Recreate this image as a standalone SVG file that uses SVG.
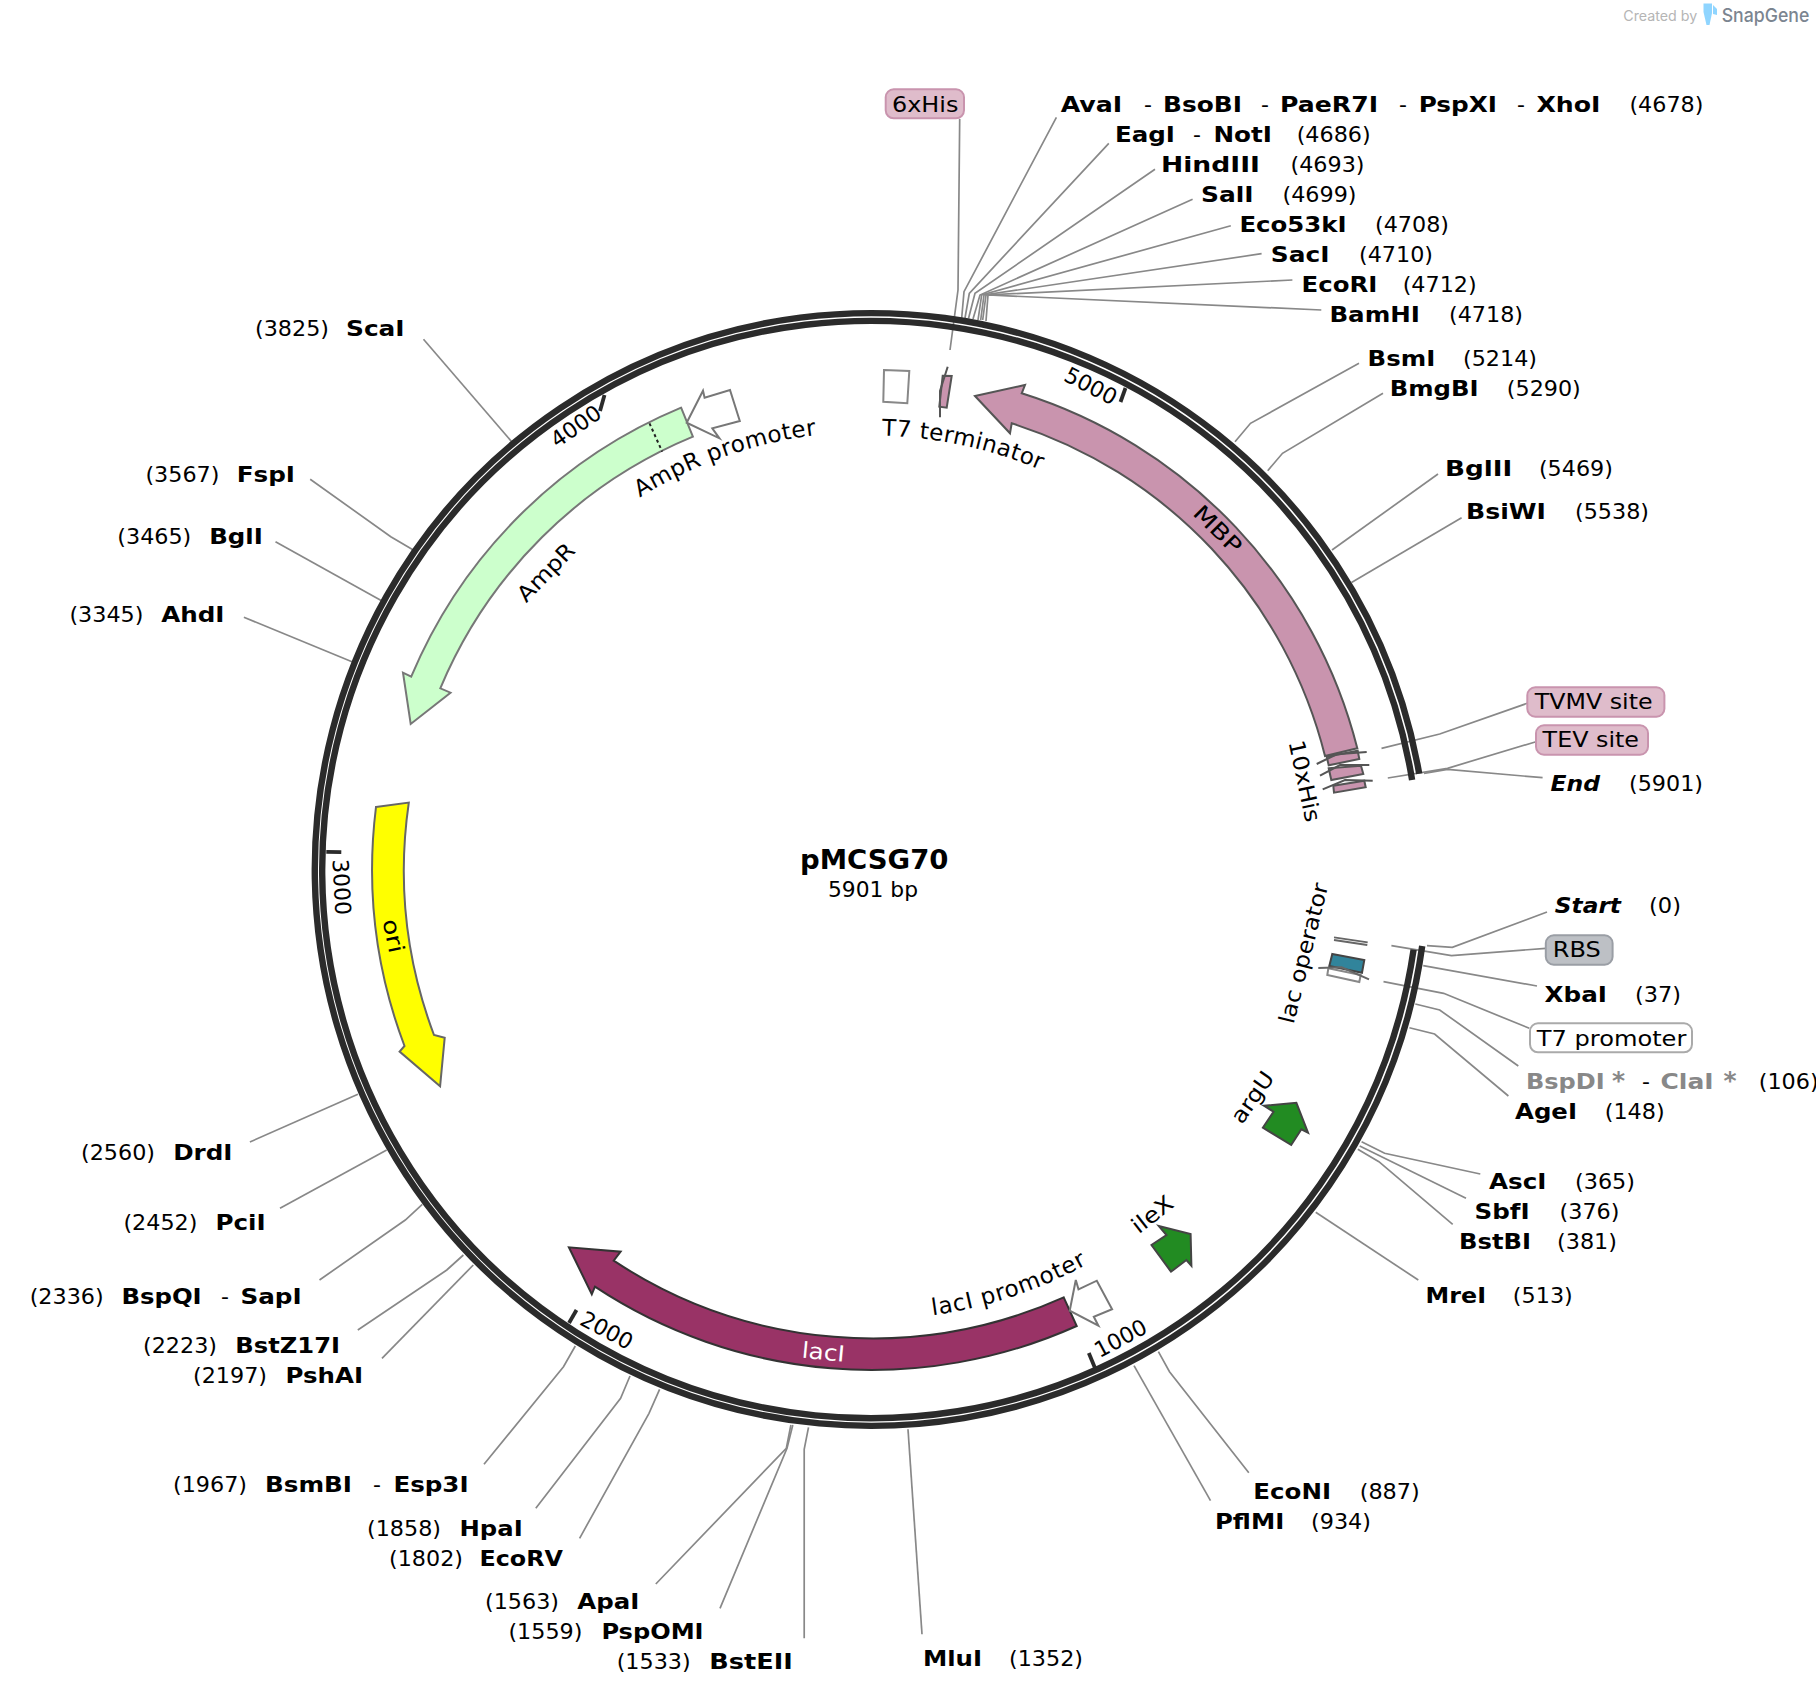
<svg xmlns="http://www.w3.org/2000/svg" width="1816" height="1698" viewBox="0 0 1816 1698">
<style>
text{font-family:"DejaVu Sans","Liberation Sans",sans-serif;font-size:22px;fill:#000}
.b{font-weight:bold}
.bi{font-weight:bold;font-style:italic}
.g{font-weight:bold;fill:#888}
.m{text-anchor:middle}
.a{font-size:23px}
.c polyline{fill:none;stroke:#888;stroke-width:1.7}
.ring{fill:none;stroke:#2b2b2b;stroke-width:6.4}
.tick{stroke:#2b2b2b;stroke-width:3.8}
.mark{fill:none;stroke:#555;stroke-width:2}
.pink{fill:#c994ae;stroke:#555;stroke-width:2}
.prom{fill:#fff;stroke:#777;stroke-width:2}
.green{fill:#228b22;stroke:#444;stroke-width:2}
.pb{fill:#dfbccb;stroke:#c994ae;stroke-width:2}
</style>
<defs>
<path id="cw" d="M871 431.5A438 438 0 1 1 870.9 431.5"/>
<path id="ccw" d="M871 1319.5A450 450 0 1 0 870.9 1319.5"/>
</defs>
<g id="connectors" class="c">
<polyline points="959.7,119 958,290 950,350"/>
<polyline points="961.7,318 964,291.7 1056.4,117.3"/>
<polyline points="965,318 969.3,293.3 1108.8,143.3"/>
<polyline points="968.5,318.5 975,293.3 1155,169.3"/>
<polyline points="973,319 980,295 1192.6,199.3"/>
<polyline points="978,320 981.7,295 1230.8,225.7"/>
<polyline points="980.7,320 984,295 1261.6,253.7"/>
<polyline points="982.7,320 986,295 1292.4,280"/>
<polyline points="986,321 988,295 1321.3,310"/>
<polyline points="1235,441.7 1250.5,423.3 1359,363.3"/>
<polyline points="1267.7,470.7 1282.5,453.3 1383,393.3"/>
<polyline points="1332,550 1438,474"/>
<polyline points="1351.5,582.5 1461.6,517.7"/>
<polyline points="1381.5,748.3 1439.7,734 1527.3,703.3"/>
<polyline points="1387.8,778 1447.5,768.3 1536,741.7"/>
<polyline points="1424,773.3 1447.5,769.3 1542.6,777.7"/>
<polyline points="1427,945.7 1452.3,947.3 1547,912"/>
<polyline points="1391.4,945.7 1451.5,955.7 1545.8,948.3"/>
<polyline points="1423.2,965.7 1537,986"/>
<polyline points="1383.5,981.7 1443.6,993.3 1529.3,1028.3"/>
<polyline points="1415.3,1004 1439.7,1010 1518.3,1066"/>
<polyline points="1409.4,1027.7 1434.6,1034 1508.4,1096"/>
<polyline points="1361.6,1141.7 1384.6,1153.3 1480.3,1174"/>
<polyline points="1359.7,1146 1466,1198.3"/>
<polyline points="1357.8,1149.3 1378.9,1161.7 1452.7,1224.3"/>
<polyline points="1315.7,1212.3 1418.3,1280"/>
<polyline points="1158.4,1351.7 1169.5,1371.7 1248.8,1472.7"/>
<polyline points="1134,1365.7 1210.5,1500.7"/>
<polyline points="908,1429.3 922,1634.3"/>
<polyline points="808.5,1427.3 804.2,1449.3 804.2,1638.3"/>
<polyline points="792.8,1425 787,1448.3 720,1608.3"/>
<polyline points="790.9,1425 786.3,1448.3 655.8,1584"/>
<polyline points="659.6,1389.3 649,1413.3 579.6,1538.3"/>
<polyline points="630,1376 620.6,1398.3 535.8,1508.3"/>
<polyline points="575.3,1346 563.5,1366.7 484,1464.3"/>
<polyline points="473.3,1265 382,1358.3"/>
<polyline points="463.4,1255 446.8,1270 357.8,1330"/>
<polyline points="422.3,1204.3 405.3,1220 319.5,1280"/>
<polyline points="386.7,1150 280,1208.3"/>
<polyline points="357.9,1094.3 249.9,1142"/>
<polyline points="352,661.7 243.9,617.3"/>
<polyline points="381.6,600.7 275.5,541.7"/>
<polyline points="413.3,550 390.8,536.7 310.2,479.3"/>
<polyline points="511.7,441.7 423.5,339.3"/>
</g>
<g id="backbone">
<path class="ring" d="M1422.2 946A556.35 556.35 0 1 1 1419.2 773.8"/>
<path class="ring" d="M1413.6 949.6A548.65 548.65 0 1 1 1412.1 779.9"/>
<line class="tick" x1="1095" y1="1368" x2="1088.8" y2="1353"/>
<line class="tick" x1="569" y1="1323" x2="576.5" y2="1310"/>
<line class="tick" x1="326.3" y1="851.9" x2="341.3" y2="852.2"/>
<line class="tick" x1="604.5" y1="395" x2="600" y2="411"/>
<line class="tick" x1="1125.5" y1="388" x2="1120.5" y2="402"/>
<text class="m" transform="translate(1120.5,1338) rotate(-28)" y="8">1000</text>
<text class="m" transform="translate(607,1330) rotate(28)" y="8">2000</text>
<text class="m" transform="translate(342,887) rotate(87)" y="8">3000</text>
<text class="m" transform="translate(575.6,426) rotate(-35)" y="8">4000</text>
<text class="m" transform="translate(1091,385.7) rotate(27)" y="8">5000</text>
</g>
<g id="center">
<text class="b" x="800" y="869" style="font-size:26px" textLength="148.5" lengthAdjust="spacingAndGlyphs">pMCSG70</text>
<text x="828" y="897" style="font-size:21px" textLength="90" lengthAdjust="spacingAndGlyphs">5901 bp</text>
</g>
<g id="MBP">
<path class="pink" d="M975 396L1025 385L1021.7 393.3A501 501 0 0 1 1357.3 748.3L1325 756A468 468 0 0 0 1011.7 423.3L1010 433.3Z"/>
<text class="m" transform="translate(1218,529) rotate(45)" y="8" textLength="58" lengthAdjust="spacingAndGlyphs">MBP</text>
</g>
<g id="his10">
<polygon class="pink" points="1326.7,756.7 1357.7,750.7 1359.3,759 1328.7,765.3"/>
<polygon class="pink" points="1328.7,768.3 1361,765.7 1363.3,774 1331.3,780"/>
<polygon class="pink" points="1333.3,785.7 1364.3,780.7 1365.7,787.3 1334,792.7"/>
<path class="mark" d="M1316.7 764L1336.7 754.3L1366.7 752M1320 775.7L1340 765L1369.3 765M1322.7 789.3L1345 780L1372.7 780.7"/>
<text class="m" transform="translate(1305,781) rotate(78)" y="8" textLength="83" lengthAdjust="spacingAndGlyphs">10xHis</text>
</g>
<g id="T7-terminator">
<polygon points="884,370 909.3,371 907.3,403.3 883.3,401.7" fill="#fff" stroke="#888" stroke-width="2"/>
<text class="a" letter-spacing="0.5" dy="4"><textPath href="#cw" startOffset="11">T7 terminator</textPath></text>
</g>
<g id="his6-mark">
<polygon class="pink" points="942.7,375.7 951.7,376 946.7,407.7 939.3,406.7"/>
<path class="mark" d="M947.7 366.7L940 391L940 417.3"/>
</g>
<g id="AmpR">
<path d="M681.1 407.7L692.9 436.7A468 468 0 0 0 440.3 688.3L450.5 692.7L410.7 724L403 672.7L411.2 676.7A501 501 0 0 1 681.1 407.7Z" fill="#ccffcc" stroke="#777" stroke-width="2"/>
<line x1="649.5" y1="423.3" x2="662.2" y2="451.7" stroke="#222" stroke-width="2" stroke-dasharray="3 3"/>
<text class="m" transform="translate(545.5,572) rotate(-46)" y="8" textLength="72" lengthAdjust="spacingAndGlyphs">AmpR</text>
</g>
<g id="AmpR-promoter">
<polygon class="prom" points="686.7,422.7 703,390.7 704.6,397.7 730,390 739.8,421 712.3,428.3 719.4,438.3"/>
<text class="a" letter-spacing="0.5"><textPath href="#cw" startOffset="2508">AmpR promoter</textPath></text>
</g>
<g id="ori">
<path d="M376 807L408.8 802.6A468 468 0 0 0 434 1035L444.7 1037.7L440.1 1086.3L399.6 1051.6L404.5 1046A501 501 0 0 1 376 807Z" fill="#ff0" stroke="#666" stroke-width="2"/>
<text class="m" transform="translate(393.8,935.7) rotate(78)" y="8" textLength="34" lengthAdjust="spacingAndGlyphs">ori</text>
</g>
<g id="lacI">
<path d="M1063.7 1297.3L1076.7 1326A501 501 0 0 1 594.9 1286.7L591.8 1294.3L568.9 1247.3L620.6 1251.7L613.7 1260.7A468 468 0 0 0 1063.7 1297.3Z" fill="#993366" stroke="#333" stroke-width="2"/>
<text class="m" transform="translate(823.4,1351.7) rotate(5.5)" y="8" style="fill:#fff" textLength="43" lengthAdjust="spacingAndGlyphs">lacI</text>
</g>
<g id="lacI-promoter">
<polygon class="prom" points="1069.7,1310.7 1075.8,1280 1078.5,1289.3 1096.8,1280.7 1112.1,1309.3 1093.8,1316.7 1098.4,1325.7"/>
<text class="a" letter-spacing="0.8"><textPath href="#ccw" startOffset="61.7">lacI promoter</textPath></text>
</g>
<g id="ileX">
<polygon class="green" points="1190.6,1234 1191.4,1265.7 1186.4,1260 1171,1271.7 1151.5,1245 1166.5,1235 1158.8,1226"/>
<text class="m" transform="translate(1152,1214) rotate(-38)" y="8" textLength="46" lengthAdjust="spacingAndGlyphs">ileX</text>
</g>
<g id="argU">
<polygon class="green" points="1296.3,1102.7 1308,1132.7 1301.4,1129.3 1291.2,1145 1262.9,1127.7 1273.5,1111.7 1264,1105.7"/>
<text class="m" transform="translate(1252,1097) rotate(-55)" y="8" textLength="58" lengthAdjust="spacingAndGlyphs">argU</text>
</g>
<g id="lac-operator">
<polygon points="1332.3,954 1364.3,960 1362,972.7 1329.3,966" fill="#31849b" stroke="#444" stroke-width="2"/>
<text class="m" transform="translate(1311,955) rotate(-76)" textLength="144" lengthAdjust="spacingAndGlyphs">lac operator</text>
</g>
<g id="RBS-mark">
<path d="M1334 937.3L1367.7 942.3M1334 940L1367.3 945" fill="none" stroke="#666" stroke-width="1.8"/>
</g>
<g id="T7-promoter-mark">
<polygon points="1328.3,968.3 1327.3,975 1359.3,982 1360.7,975" fill="#fff" stroke="#888" stroke-width="2"/>
<path d="M1318.3 968L1341.7 967.3L1369 979.3" fill="none" stroke="#666" stroke-width="2"/>
</g>
<g id="box-6xHis"><rect class="pb" x="885.7" y="89.3" width="78.3" height="29" rx="8"/><text x="892" y="111.7" textLength="66.4" lengthAdjust="spacingAndGlyphs">6xHis</text></g>
<g id="box-TVMV"><rect class="pb" x="1527.3" y="687.3" width="137.1" height="29.4" rx="8"/><text x="1534.8" y="709.3" textLength="117.8" lengthAdjust="spacingAndGlyphs">TVMV site</text></g>
<g id="box-TEV"><rect class="pb" x="1536" y="725.3" width="112" height="29.4" rx="8"/><text x="1542.6" y="747.3" textLength="96.4" lengthAdjust="spacingAndGlyphs">TEV site</text></g>
<g id="box-RBS"><rect x="1545.8" y="935.3" width="66.8" height="29.4" rx="8" fill="#bdc0c5" stroke="#9a9ea5" stroke-width="2"/><text x="1552.8" y="956.7" textLength="48" lengthAdjust="spacingAndGlyphs">RBS</text></g>
<g id="box-T7"><rect x="1530" y="1023.3" width="162" height="29" rx="8" fill="#fff" stroke="#aaa" stroke-width="2"/><text x="1536.7" y="1045.7" textLength="149.7" lengthAdjust="spacingAndGlyphs">T7 promoter</text></g>
<g id="site-4678">
<text class="b" x="1060.7" y="111.7" textLength="61.6" lengthAdjust="spacingAndGlyphs">AvaI</text><text x="1144" y="111.7">-</text>
<text class="b" x="1163" y="111.7" textLength="78.9" lengthAdjust="spacingAndGlyphs">BsoBI</text><text x="1261" y="111.7">-</text>
<text class="b" x="1280" y="111.7" textLength="98" lengthAdjust="spacingAndGlyphs">PaeR7I</text><text x="1399" y="111.7">-</text>
<text class="b" x="1418.7" y="111.7" textLength="78.3" lengthAdjust="spacingAndGlyphs">PspXI</text><text x="1517" y="111.7">-</text>
<text class="b" x="1536.4" y="111.7" textLength="64.1" lengthAdjust="spacingAndGlyphs">XhoI</text><text x="1629.4" y="111.7" textLength="74" lengthAdjust="spacingAndGlyphs">(4678)</text>
</g>
<g id="site-4686"><text class="b" x="1115" y="141.7" textLength="60" lengthAdjust="spacingAndGlyphs">EagI</text><text x="1193" y="141.7">-</text><text class="b" x="1213.5" y="141.7" textLength="58.5" lengthAdjust="spacingAndGlyphs">NotI</text><text x="1296.7" y="141.7" textLength="74" lengthAdjust="spacingAndGlyphs">(4686)</text></g>
<g id="site-4693"><text class="b" x="1161" y="171.7" textLength="99" lengthAdjust="spacingAndGlyphs">HindIII</text><text x="1290.5" y="171.7" textLength="74" lengthAdjust="spacingAndGlyphs">(4693)</text></g>
<g id="site-4699"><text class="b" x="1201" y="201.7" textLength="52.6" lengthAdjust="spacingAndGlyphs">SalI</text><text x="1282.5" y="201.7" textLength="74" lengthAdjust="spacingAndGlyphs">(4699)</text></g>
<g id="site-4708"><text class="b" x="1239.4" y="231.7" textLength="107.2" lengthAdjust="spacingAndGlyphs">Eco53kI</text><text x="1375" y="231.7" textLength="74" lengthAdjust="spacingAndGlyphs">(4708)</text></g>
<g id="site-4710"><text class="b" x="1270.8" y="261.7" textLength="58.6" lengthAdjust="spacingAndGlyphs">SacI</text><text x="1359" y="261.7" textLength="74" lengthAdjust="spacingAndGlyphs">(4710)</text></g>
<g id="site-4712"><text class="b" x="1301.6" y="291.7" textLength="75.8" lengthAdjust="spacingAndGlyphs">EcoRI</text><text x="1402.7" y="291.7" textLength="74" lengthAdjust="spacingAndGlyphs">(4712)</text></g>
<g id="site-4718"><text class="b" x="1329.4" y="321.7" textLength="90.6" lengthAdjust="spacingAndGlyphs">BamHI</text><text x="1449" y="321.7" textLength="74" lengthAdjust="spacingAndGlyphs">(4718)</text></g>
<g id="site-5214"><text class="b" x="1367.6" y="365.7" textLength="67.7" lengthAdjust="spacingAndGlyphs">BsmI</text><text x="1463" y="365.7" textLength="74" lengthAdjust="spacingAndGlyphs">(5214)</text></g>
<g id="site-5290"><text class="b" x="1389.7" y="395.7" textLength="88.8" lengthAdjust="spacingAndGlyphs">BmgBI</text><text x="1506.8" y="395.7" textLength="74" lengthAdjust="spacingAndGlyphs">(5290)</text></g>
<g id="site-5469"><text class="b" x="1445" y="475.7" textLength="67.3" lengthAdjust="spacingAndGlyphs">BglII</text><text x="1538.9" y="475.7" textLength="74" lengthAdjust="spacingAndGlyphs">(5469)</text></g>
<g id="site-5538"><text class="b" x="1466" y="519" textLength="80" lengthAdjust="spacingAndGlyphs">BsiWI</text><text x="1575" y="519" textLength="74" lengthAdjust="spacingAndGlyphs">(5538)</text></g>
<g id="site-5901"><text class="bi" x="1550.5" y="791" textLength="49.5" lengthAdjust="spacingAndGlyphs">End</text><text x="1629" y="791" textLength="74" lengthAdjust="spacingAndGlyphs">(5901)</text></g>
<g id="site-0"><text class="bi" x="1554.8" y="913.3" textLength="66.2" lengthAdjust="spacingAndGlyphs">Start</text><text x="1649" y="913.3" textLength="32" lengthAdjust="spacingAndGlyphs">(0)</text></g>
<g id="site-37"><text class="b" x="1544.6" y="1001.7" textLength="62.4" lengthAdjust="spacingAndGlyphs">XbaI</text><text x="1635" y="1001.7" textLength="46" lengthAdjust="spacingAndGlyphs">(37)</text></g>
<g id="site-106"><text class="g" x="1526" y="1089.3" textLength="78.7" lengthAdjust="spacingAndGlyphs">BspDI</text><text class="g" x="1612" y="1089.3" style="font-size:25px">*</text><text x="1642" y="1089.3">-</text><text class="g" x="1660.5" y="1089.3" textLength="53.1" lengthAdjust="spacingAndGlyphs">ClaI</text><text class="g" x="1723.5" y="1089.3" style="font-size:25px">*</text><text x="1758.7" y="1089.3" textLength="60" lengthAdjust="spacingAndGlyphs">(106)</text></g>
<g id="site-148"><text class="b" x="1515" y="1119.3" textLength="62" lengthAdjust="spacingAndGlyphs">AgeI</text><text x="1604.7" y="1119.3" textLength="60" lengthAdjust="spacingAndGlyphs">(148)</text></g>
<g id="site-365"><text class="b" x="1489" y="1189.3" textLength="57.5" lengthAdjust="spacingAndGlyphs">AscI</text><text x="1575" y="1189.3" textLength="60" lengthAdjust="spacingAndGlyphs">(365)</text></g>
<g id="site-376"><text class="b" x="1474.6" y="1219.3" textLength="55.1" lengthAdjust="spacingAndGlyphs">SbfI</text><text x="1559.5" y="1219.3" textLength="60" lengthAdjust="spacingAndGlyphs">(376)</text></g>
<g id="site-381"><text class="b" x="1459" y="1249.3" textLength="72" lengthAdjust="spacingAndGlyphs">BstBI</text><text x="1557" y="1249.3" textLength="60" lengthAdjust="spacingAndGlyphs">(381)</text></g>
<g id="site-513"><text class="b" x="1425.6" y="1303.3" textLength="60.4" lengthAdjust="spacingAndGlyphs">MreI</text><text x="1512.8" y="1303.3" textLength="60" lengthAdjust="spacingAndGlyphs">(513)</text></g>
<g id="site-887"><text class="b" x="1253.3" y="1499.3" textLength="77.7" lengthAdjust="spacingAndGlyphs">EcoNI</text><text x="1359.7" y="1499.3" textLength="60" lengthAdjust="spacingAndGlyphs">(887)</text></g>
<g id="site-934"><text class="b" x="1215" y="1529.3" textLength="69.3" lengthAdjust="spacingAndGlyphs">PflMI</text><text x="1311" y="1529.3" textLength="60" lengthAdjust="spacingAndGlyphs">(934)</text></g>
<g id="site-1352"><text class="b" x="922.9" y="1665.7" textLength="59.1" lengthAdjust="spacingAndGlyphs">MluI</text><text x="1009" y="1665.7" textLength="74" lengthAdjust="spacingAndGlyphs">(1352)</text></g>
<g id="site-1533"><text x="616.7" y="1669.3" textLength="74" lengthAdjust="spacingAndGlyphs">(1533)</text><text class="b" x="709.3" y="1669.3" textLength="83.5" lengthAdjust="spacingAndGlyphs">BstEII</text></g>
<g id="site-1559"><text x="508.4" y="1639.3" textLength="74" lengthAdjust="spacingAndGlyphs">(1559)</text><text class="b" x="601.4" y="1639.3" textLength="102.2" lengthAdjust="spacingAndGlyphs">PspOMI</text></g>
<g id="site-1563"><text x="485" y="1609.3" textLength="74" lengthAdjust="spacingAndGlyphs">(1563)</text><text class="b" x="577.3" y="1609.3" textLength="62" lengthAdjust="spacingAndGlyphs">ApaI</text></g>
<g id="site-1802"><text x="389" y="1566" textLength="74" lengthAdjust="spacingAndGlyphs">(1802)</text><text class="b" x="479.5" y="1566" textLength="83.4" lengthAdjust="spacingAndGlyphs">EcoRV</text></g>
<g id="site-1858"><text x="367" y="1535.7" textLength="74" lengthAdjust="spacingAndGlyphs">(1858)</text><text class="b" x="459.5" y="1535.7" textLength="63.2" lengthAdjust="spacingAndGlyphs">HpaI</text></g>
<g id="site-1967"><text x="173" y="1491.7" textLength="74" lengthAdjust="spacingAndGlyphs">(1967)</text><text class="b" x="265" y="1491.7" textLength="87" lengthAdjust="spacingAndGlyphs">BsmBI</text><text x="373" y="1491.7">-</text><text class="b" x="393.4" y="1491.7" textLength="75.2" lengthAdjust="spacingAndGlyphs">Esp3I</text></g>
<g id="site-2197"><text x="193" y="1383.3" textLength="74" lengthAdjust="spacingAndGlyphs">(2197)</text><text class="b" x="285.5" y="1383.3" textLength="77.5" lengthAdjust="spacingAndGlyphs">PshAI</text></g>
<g id="site-2223"><text x="143" y="1353.3" textLength="74" lengthAdjust="spacingAndGlyphs">(2223)</text><text class="b" x="235.3" y="1353.3" textLength="104.7" lengthAdjust="spacingAndGlyphs">BstZ17I</text></g>
<g id="site-2336"><text x="29.7" y="1304" textLength="74" lengthAdjust="spacingAndGlyphs">(2336)</text><text class="b" x="121.4" y="1304" textLength="80.3" lengthAdjust="spacingAndGlyphs">BspQI</text><text x="221" y="1304">-</text><text class="b" x="240.4" y="1304" textLength="61.3" lengthAdjust="spacingAndGlyphs">SapI</text></g>
<g id="site-2452"><text x="123.4" y="1230" textLength="74" lengthAdjust="spacingAndGlyphs">(2452)</text><text class="b" x="215.5" y="1230" textLength="50.2" lengthAdjust="spacingAndGlyphs">PciI</text></g>
<g id="site-2560"><text x="81" y="1160" textLength="74" lengthAdjust="spacingAndGlyphs">(2560)</text><text class="b" x="173.2" y="1160" textLength="59.3" lengthAdjust="spacingAndGlyphs">DrdI</text></g>
<g id="site-3345"><text x="69.4" y="621.7" textLength="74" lengthAdjust="spacingAndGlyphs">(3345)</text><text class="b" x="161.2" y="621.7" textLength="63.3" lengthAdjust="spacingAndGlyphs">AhdI</text></g>
<g id="site-3465"><text x="117.3" y="544" textLength="74" lengthAdjust="spacingAndGlyphs">(3465)</text><text class="b" x="209.2" y="544" textLength="53.6" lengthAdjust="spacingAndGlyphs">BglI</text></g>
<g id="site-3567"><text x="145.4" y="481.7" textLength="74" lengthAdjust="spacingAndGlyphs">(3567)</text><text class="b" x="236.7" y="481.7" textLength="58.3" lengthAdjust="spacingAndGlyphs">FspI</text></g>
<g id="site-3825"><text x="255" y="335.7" textLength="74" lengthAdjust="spacingAndGlyphs">(3825)</text><text class="b" x="346" y="335.7" textLength="58.6" lengthAdjust="spacingAndGlyphs">ScaI</text></g>
<g id="credit">
<text x="1623.3" y="20.5" style="font-family:Inter,'Liberation Sans',sans-serif;font-size:14px;fill:#b5b5b5" textLength="74" lengthAdjust="spacingAndGlyphs">Created by</text>
<polygon points="1703.5,3.5 1712,3.5 1712,13 1709.5,25 1706.5,25 1703.5,12" fill="#8fd5ff"/>
<polygon points="1713,5 1717,9 1717,15 1713,14" fill="#8fd5ff"/>
<text x="1721.7" y="21.5" style="font-family:Inter,'Liberation Sans',sans-serif;font-size:19px;font-weight:500;fill:#7b8590" textLength="87.6" lengthAdjust="spacingAndGlyphs">SnapGene</text>
</g>
</svg>
